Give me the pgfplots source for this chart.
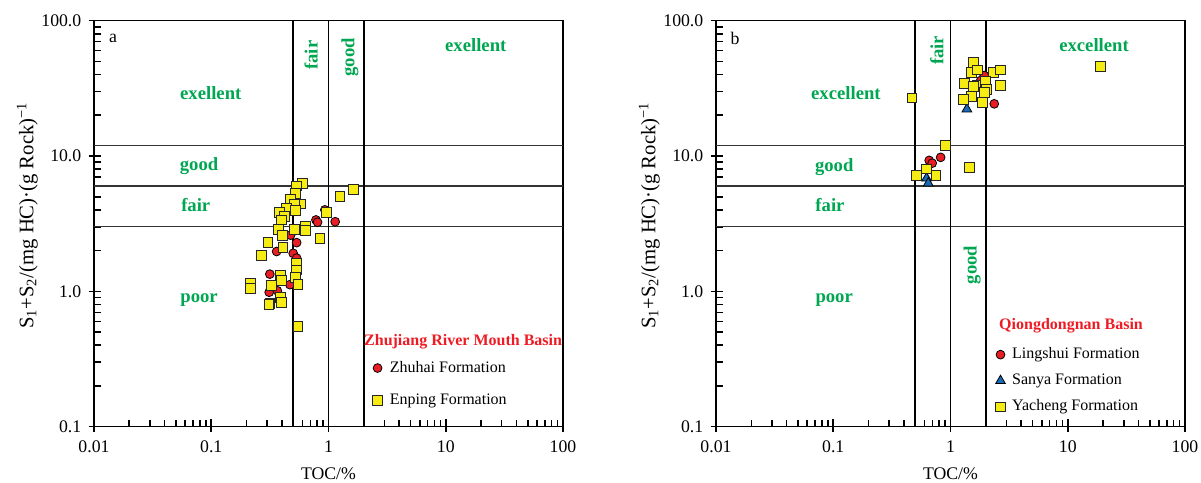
\documentclass[border=0pt]{standalone}
\usepackage{pgfplots}
\pgfplotsset{compat=1.18}
\usepackage{fontspec}
\setmainfont{Liberation Serif}
\definecolor{zgreen}{RGB}{0,166,81}
\definecolor{zred}{RGB}{237,28,36}
\definecolor{myyellow}{RGB}{246,236,20}
\definecolor{myblue}{RGB}{25,105,180}
\definecolor{mycirc}{RGB}{232,30,36}

\pgfplotsset{
 refline/.style={line width=1.1pt, black, forget plot},
 hline/.style={line width=1pt, black!80, forget plot},
 circ/.style={only marks, mark=*, mark size=3.3pt, mark options={fill=mycirc, draw=black, line width=0.6pt}},
 sq/.style={only marks, mark=square*, mark size=3.7pt, mark options={fill=myyellow, draw=black!85, line width=0.6pt}},
 tri/.style={only marks, mark=triangle*, mark size=4.2pt, mark options={fill=myblue, draw=black, line width=0.6pt}},
}
\tikzset{lab/.style={font=\fontsize{14}{16}\selectfont\bfseries, text=zgreen}}

\begin{document}
\begin{tikzpicture}
\useasboundingbox (0,0) rectangle (900.75pt,361.5pt);
% ---------------- panel a ----------------
\begin{axis}[at={(70.5pt,41.5pt)}, anchor=south west,
  xmode=log, ymode=log,
  scale only axis, width=351.75pt, height=304.5pt,
  xmin=0.01, xmax=100, ymin=0.1, ymax=100,
  xtick={0.01,0.1,1,10,100}, xticklabels={0.01,0.1,1,10,100},
  ytick={0.1,1,10,100}, yticklabels={0.1,1.0,10.0,100.0},
  minor xtick={0.02,0.03,0.04,0.05,0.06,0.07,0.08,0.09,0.2,0.3,0.4,0.5,0.6,0.7,0.8,0.9,2,3,4,5,6,7,8,9,20,30,40,50,60,70,80,90},
  minor ytick={0.2,0.3,0.4,0.5,0.6,0.7,0.8,0.9,2,3,4,5,6,7,8,9,20,30,40,50,60,70,80,90},
  tick align=inside, xtick pos=bottom, ytick pos=left,
  major tick length=5.5pt, minor tick length=5pt,
  extra x ticks={0.01,0.1,1,10,100}, extra x tick labels={},
  extra y ticks={0.1,1,10,100}, extra y tick labels={},
  extra tick style={tick align=outside, major tick length=4pt},
  axis line style={line width=1pt},
  every tick/.style={line width=1.2pt, black},
  every minor tick/.style={line width=1.2pt, black},
  tick label style={font=\fontsize{13.3}{16}\selectfont},
  yticklabel style={xshift=-6pt},
  xticklabel style={yshift=-7pt},
  xlabel style={font=\fontsize{13.3}{16}\selectfont},
  ylabel style={font=\fontsize{15.5}{17}\selectfont},
  xlabel={TOC/\%},
  ylabel={S\textsubscript{1}+S\textsubscript{2}/(mg HC)·(g Rock)\textsuperscript{−1}},
  xlabel style={at={(axis description cs:0.5,-0.1165)}, anchor=center},
  ylabel style={at={(axis description cs:-0.142,0.52)}, anchor=center},
  legend cell align=left,
  legend style={draw=none, fill=none, at={(rel axis cs:0.585,0.105)}, anchor=west,
    font=\fontsize{12}{14}\selectfont, row sep=11pt,
    /tikz/every odd column/.append style={column sep=3.5pt},
    nodes={text height=8.5pt, text depth=2.5pt, inner ysep=1pt}}]
\addplot[hline] coordinates {(0.01,12) (100,12)};
\addplot[hline] coordinates {(0.01,6) (100,6)};
\addplot[hline] coordinates {(0.01,3) (100,3)};
\addplot[refline] coordinates {(0.5,0.1) (0.5,100)};
\addplot[refline] coordinates {(1,0.1) (1,100)};
\addplot[refline] coordinates {(2,0.1) (2,100)};
\addplot[circ] coordinates {
(0.931,4.00) (0.782,3.37) (0.807,3.24) (1.14,3.27) (0.475,2.60) (0.535,2.29)
(0.361,1.97) (0.500,1.91) (0.535,1.76) (0.316,1.34) (0.469,1.12) (0.366,1.01) (0.312,0.985)};
\addlegendentry{Zhuhai Formation}
\addplot[sq] coordinates {
(0.601,6.30) (0.535,6.01) (0.520,5.31) (0.471,4.80) (0.578,4.43) (0.511,4.37)
(0.434,4.11) (0.520,3.95) (0.380,3.84) (0.419,3.57) (0.398,3.37) (0.376,2.88)
(0.406,2.60) (0.514,2.88) (0.638,3.04) (0.638,2.80) (0.845,2.47) (0.304,2.29)
(0.408,2.12) (0.270,1.83) (0.535,1.61) (0.535,1.44) (0.520,1.26) (0.386,1.32)
(0.398,1.21) (0.548,1.12) (0.214,1.15) (0.214,1.05) (0.325,1.10) (0.386,0.905)
(0.398,0.825) (0.316,0.817) (0.310,0.800) (0.548,0.548) (1.25,5.01) (1.62,5.69) (0.955,3.82)};
\addlegendentry{Enping Formation}
\node[font=\fontsize{13.3}{16}\selectfont] at (rel axis cs:0.0405,0.957) {a};
\node[lab] at (rel axis cs:0.249,0.822) {exellent};
\node[lab] at (rel axis cs:0.224,0.642) {good};
\node[lab] at (rel axis cs:0.217,0.546) {fair};
\node[lab] at (rel axis cs:0.224,0.312) {poor};
\node[lab, rotate=90] at (rel axis cs:0.463,0.915) {fair};
\node[lab, rotate=90] at (rel axis cs:0.546,0.910) {good};
\node[lab] at (rel axis cs:0.814,0.940) {exellent};
\node[font=\fontsize{12}{14}\selectfont\bfseries, text=zred] at (rel axis cs:0.787,0.209) {Zhujiang River Mouth Basin};
\end{axis}
% ---------------- panel b ----------------
\begin{axis}[at={(537pt,41.5pt)}, anchor=south west,
  xmode=log, ymode=log,
  scale only axis, width=351.75pt, height=304.5pt,
  xmin=0.01, xmax=100, ymin=0.1, ymax=100,
  xtick={0.01,0.1,1,10,100}, xticklabels={0.01,0.1,1,10,100},
  ytick={0.1,1,10,100}, yticklabels={0.1,1.0,10.0,100.0},
  minor xtick={0.02,0.03,0.04,0.05,0.06,0.07,0.08,0.09,0.2,0.3,0.4,0.5,0.6,0.7,0.8,0.9,2,3,4,5,6,7,8,9,20,30,40,50,60,70,80,90},
  minor ytick={0.2,0.3,0.4,0.5,0.6,0.7,0.8,0.9,2,3,4,5,6,7,8,9,20,30,40,50,60,70,80,90},
  tick align=inside, xtick pos=bottom, ytick pos=left,
  major tick length=5.5pt, minor tick length=5pt,
  extra x ticks={0.01,0.1,1,10,100}, extra x tick labels={},
  extra y ticks={0.1,1,10,100}, extra y tick labels={},
  extra tick style={tick align=outside, major tick length=4pt},
  axis line style={line width=1pt},
  every tick/.style={line width=1.2pt, black},
  every minor tick/.style={line width=1.2pt, black},
  tick label style={font=\fontsize{13.3}{16}\selectfont},
  yticklabel style={xshift=-6pt},
  xticklabel style={yshift=-7pt},
  xlabel style={font=\fontsize{13.3}{16}\selectfont},
  ylabel style={font=\fontsize{15.5}{17}\selectfont},
  xlabel={TOC/\%},
  ylabel={S\textsubscript{1}+S\textsubscript{2}/(mg HC)·(g Rock)\textsuperscript{−1}},
  xlabel style={at={(axis description cs:0.5,-0.1165)}, anchor=center},
  ylabel style={at={(axis description cs:-0.142,0.52)}, anchor=center},
  legend cell align=left,
  legend style={draw=none, fill=none, at={(rel axis cs:0.587,0.113)}, anchor=west,
    font=\fontsize{12}{14}\selectfont, row sep=6.6pt,
    /tikz/every odd column/.append style={column sep=3pt},
    nodes={text height=8.5pt, text depth=2.5pt, inner ysep=1pt}}]
\addplot[hline] coordinates {(0.01,12) (100,12)};
\addplot[hline] coordinates {(0.01,6) (100,6)};
\addplot[hline] coordinates {(0.01,3) (100,3)};
\addplot[refline] coordinates {(0.5,0.1) (0.5,100)};
\addplot[refline] coordinates {(1,0.1) (1,100)};
\addplot[refline] coordinates {(2,0.1) (2,100)};
\addplot[circ] coordinates {
(1.94,39.3) (1.81,36.1) (2.36,24.3) (0.824,9.77) (0.658,9.28) (0.698,8.85)};
\addlegendentry{Lingshui Formation}
\addplot[tri] coordinates {(1.38,22.2) (0.625,6.85) (0.646,6.30)};
\addlegendentry{Sanya Formation}
\addplot[sq] coordinates {
(1.57,49.3) (1.51,41.3) (1.70,43.3) (2.34,41.3) (2.65,43.3) (1.32,34.5)
(1.69,33.0) (1.56,32.6) (1.99,35.5) (2.65,33.0) (2.03,31.2) (1.94,29.4)
(1.51,27.5) (1.28,26.3) (1.86,25.0) (0.469,26.9) (0.902,11.9) (1.46,8.27)
(0.625,8.03) (0.514,7.17) (0.751,7.17) (19,45.6)};
\addlegendentry{Yacheng Formation}
\node[font=\fontsize{13.3}{16}\selectfont] at (rel axis cs:0.0405,0.957) {b};
\node[lab] at (rel axis cs:0.277,0.822) {excellent};
\node[lab] at (rel axis cs:0.252,0.640) {good};
\node[lab] at (rel axis cs:0.243,0.546) {fair};
\node[lab] at (rel axis cs:0.252,0.312) {poor};
\node[lab, rotate=90] at (rel axis cs:0.471,0.927) {fair};
\node[lab, rotate=90] at (rel axis cs:0.546,0.398) {good};
\node[lab] at (rel axis cs:0.806,0.940) {excellent};
\node[font=\fontsize{12}{14}\selectfont\bfseries, text=zred] at (rel axis cs:0.757,0.248) {Qiongdongnan Basin};
\end{axis}
\end{tikzpicture}
\end{document}
